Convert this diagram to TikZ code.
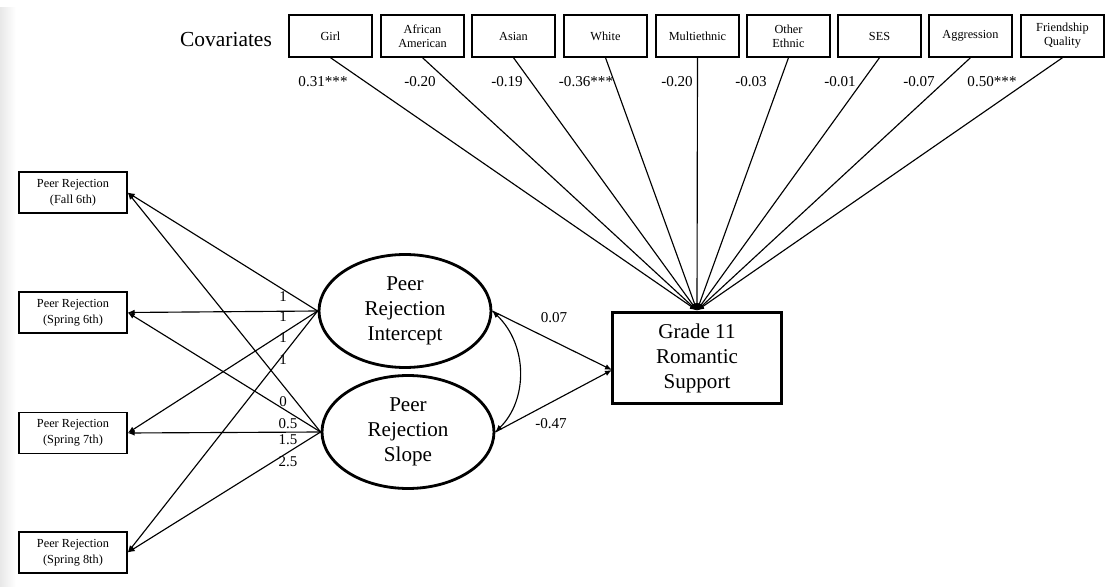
\documentclass[tikz,border=0pt]{standalone}
\usepackage{fontspec}
\setmainfont{Liberation Serif}
\usetikzlibrary{shapes.geometric,arrows.meta}
\begin{document}
\begin{tikzpicture}[x=0.02cm,y=-0.02cm,
  >={Latex[length=4pt,width=3.2pt]},
  cov/.style={draw,line width=0.8pt,minimum width=1.66cm,minimum height=0.84cm,inner sep=0pt,align=center,font=\fontsize{7}{8}\selectfont},
  obs/.style={draw,line width=0.8pt,minimum width=2.16cm,minimum height=0.82cm,inner sep=0pt,align=center,font=\fontsize{7}{9}\selectfont},
  latent/.style={ellipse,draw,line width=1.6pt,minimum width=3.44cm,minimum height=2.26cm,inner sep=0pt,align=center,font=\fontsize{12}{14.2}\selectfont},
  outcome/.style={draw,line width=1.7pt,minimum width=3.4cm,minimum height=1.84cm,inner sep=0pt,align=center,font=\fontsize{12}{14.2}\selectfont},
  coef/.style={font=\fontsize{8.6}{9}\selectfont,inner sep=0pt},
  load/.style={font=\fontsize{8.5}{9}\selectfont,inner sep=0pt},
  path/.style={->,line width=0.65pt}
]
\useasboundingbox (0,0) rectangle (1106,587);
\shade[left color=black!9,right color=white] (0,8) rectangle (16,587);

\node[font=\fontsize{12.2}{14}\selectfont] (covlab) at (226,40) {Covariates};
\node[cov] (c1) at (330.5,36) {Girl};
\node[cov] (c2) at (422.5,36) {African\\American};
\node[cov] (c3) at (513.5,36) {Asian};
\node[cov] (c4) at (605.5,36) {White};
\node[cov] (c5) at (697.5,36) {Multiethnic};
\node[cov] (c6) at (788.5,36) {Other\\Ethnic};
\node[cov] (c7) at (879.5,36) {SES};
\node[cov] (c8) at (970.5,36) {Aggression};
\node[cov] (c9) at (1062.5,36) {Friendship\\Quality};

\node[obs] (o1) at (73,192.5) {Peer Rejection\\(Fall 6th)};
\node[obs] (o2) at (73,312.5) {Peer Rejection\\(Spring 6th)};
\node[obs] (o3) at (73,433) {Peer Rejection\\(Spring 7th)};
\node[obs] (o4) at (73,552.5) {Peer Rejection\\(Spring 8th)};

\node[latent] (ic) at (405,311) {Peer\\Rejection\\Intercept};
\node[latent] (sl) at (408,432) {Peer\\Rejection\\Slope};

\node[outcome] (gr) at (697,358) {Grade 11\\Romantic\\Support};
\coordinate (gin) at (612,370);

\foreach \i in {1,...,9} \draw[path] (c\i.south) -- (gr.north);
\foreach \i in {1,...,4} {
  \draw[path] (ic.west) -- (o\i.east);
  \draw[path] (sl.west) -- (o\i.east);
}
\draw[path] (ic.east) -- (gin);
\draw[path] (sl.east) -- (gin);
\draw[<->,line width=0.65pt] (ic.east) .. controls (528,345) and (528,400) .. (sl.east);

\node[coef] (k1) at (323,82) {0.31***};
\node[coef] (k2) at (420,82) {-0.20};
\node[coef] (k3) at (507,82) {-0.19};
\node[coef] (k4) at (586,82) {-0.36***};
\node[coef] (k5) at (677,82) {-0.20};
\node[coef] (k6) at (751,82) {-0.03};
\node[coef] (k7) at (840,82) {-0.01};
\node[coef] (k8) at (919,82) {-0.07};
\node[coef] (k9) at (992,82) {0.50***};
\node[coef] (pi) at (554,318) {0.07};
\node[coef] (ps) at (551,424) {-0.47};

\node[load] (l1) at (283,297) {1};
\node[load] (l2) at (283,317) {1};
\node[load] (l3) at (283,338) {1};
\node[load] (l4) at (283,360) {1};
\node[load] (s1) at (283,402) {0};
\node[load] (s2) at (288,424) {0.5};
\node[load] (s3) at (288,440) {1.5};
\node[load] (s4) at (288,462) {2.5};
\end{tikzpicture}
\end{document}
